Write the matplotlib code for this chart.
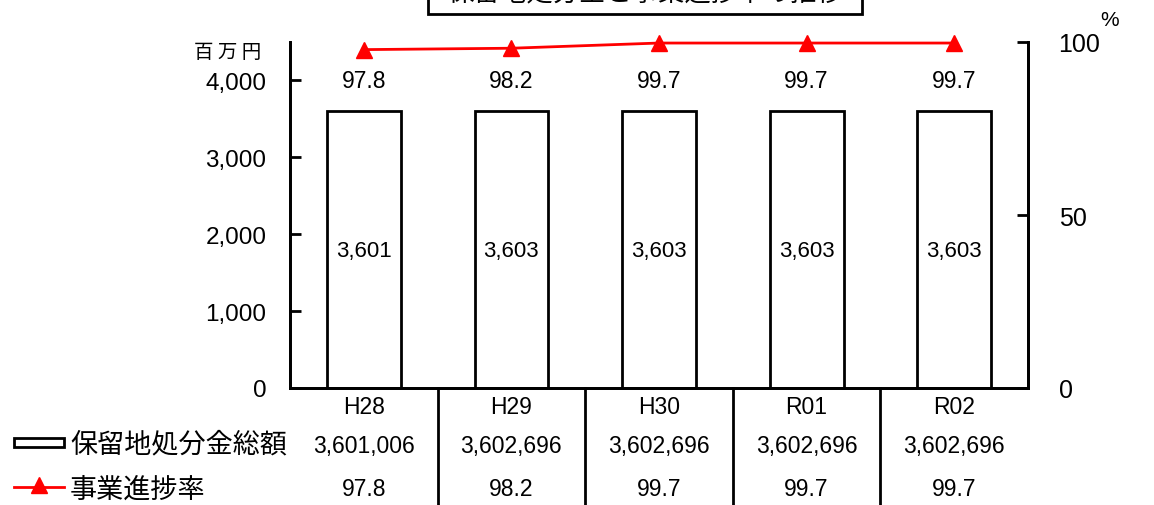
import matplotlib.pyplot as plt
from matplotlib.patches import Rectangle
from matplotlib.lines import Line2D
from matplotlib.transforms import blended_transform_factory

plt.rcParams['font.family'] = ['Liberation Sans', 'Noto Sans CJK JP', 'DejaVu Sans']

years = ['H28', 'H29', 'H30', 'R01', 'R02']
amount_thousand = [3601006, 3602696, 3602696, 3602696, 3602696]  # 千円
amount_million = [3601, 3603, 3603, 3603, 3603]  # 百万円
progress = [97.8, 98.2, 99.7, 99.7, 99.7]  # %

fig = plt.figure(figsize=(11.54, 5.06), dpi=100)
ax = fig.add_axes([290 / 1154, 1 - 389 / 506, 738 / 1154, 346 / 506])
ax2 = ax.twinx()

x = range(len(years))
ax.bar(x, amount_million, width=0.5, color='white', edgecolor='black', linewidth=2, zorder=2)
for i, v in enumerate(amount_million):
    ax.text(i, 1790, f'{v:,}', ha='center', va='center', fontsize=16)
    ax.text(i, 4000, f'{progress[i]}', ha='center', va='center', fontsize=16.5)

ax2.plot(x, progress, color='red', linewidth=2, marker='^', markersize=11, clip_on=False, zorder=3)

ax.set_xlim(-0.5, len(years) - 0.5)
ax.set_ylim(0, 4500)
ax.set_yticks([0, 1000, 2000, 3000, 4000])
ax.set_yticklabels(['0', '1,000', '2,000', '3,000', '4,000'])
ax2.set_ylim(0, 100)
ax2.set_yticks([0, 50, 100])

ax.set_xticks([])
ax.tick_params(axis='y', direction='in', length=8, width=2, pad=17, labelsize=17.5)
ax2.tick_params(axis='y', direction='in', length=8, width=2, pad=22, labelsize=18)
for a in (ax, ax2):
    a.spines['top'].set_visible(False)
    for s in ('left', 'right', 'bottom'):
        a.spines[s].set_linewidth(2)

fig.text(228 / 1154, 1 - 52 / 506, '百 万 円', ha='center', va='center', fontsize=14,
         family=['Noto Sans CJK JP'])
fig.text(1110 / 1154, 1 - 20 / 506, '%', ha='center', va='center', fontsize=15)

# title box, partly beyond the top edge
fig.patches.append(Rectangle((428 / 1154, 1 - 15 / 506), 434 / 1154, 0.2, transform=fig.transFigure,
                             facecolor='white', edgecolor='black', linewidth=2))
fig.text(645 / 1154, 1 - (-6) / 506, '保留地処分金と事業進捗率の推移', ha='center', va='center',
         fontsize=19, family=['Noto Sans CJK JP'])

# data table under the axis
tr = blended_transform_factory(ax.transData, fig.transFigure)
for i, yr in enumerate(years):
    fig.text(i, 1 - 408 / 506, yr, transform=tr, ha='center', va='center', fontsize=16.5)
    fig.text(i, 1 - 447 / 506, f'{amount_thousand[i]:,}', transform=tr, ha='center', va='center', fontsize=16.5)
    fig.text(i, 1 - 490 / 506, f'{progress[i]}', transform=tr, ha='center', va='center', fontsize=16.5)
for b in range(1, len(years)):
    fig.lines.append(Line2D([b - 0.5, b - 0.5], [1 - 389 / 506, 0], transform=tr, color='black', linewidth=2))

# legend rows
fig.patches.append(Rectangle((14 / 1154, 1 - 448 / 506), 50 / 1154, 9 / 506, transform=fig.transFigure,
                             facecolor='white', edgecolor='black', linewidth=2))
fig.text(70 / 1154, 1 - 445 / 506, '保留地処分金総額', ha='left', va='center', fontsize=19.5,
         family=['Noto Sans CJK JP'])
fig.lines.append(Line2D([14 / 1154, 64 / 1154], [1 - 488 / 506] * 2, transform=fig.transFigure,
                        color='red', linewidth=2))
fig.lines.append(Line2D([39 / 1154], [1 - 486 / 506], transform=fig.transFigure,
                        color='red', marker='^', markersize=11, linestyle='none'))
fig.text(70 / 1154, 1 - 490 / 506, '事業進捗率', ha='left', va='center', fontsize=19.5,
         family=['Noto Sans CJK JP'])

fig.savefig('out.png', dpi=100)
